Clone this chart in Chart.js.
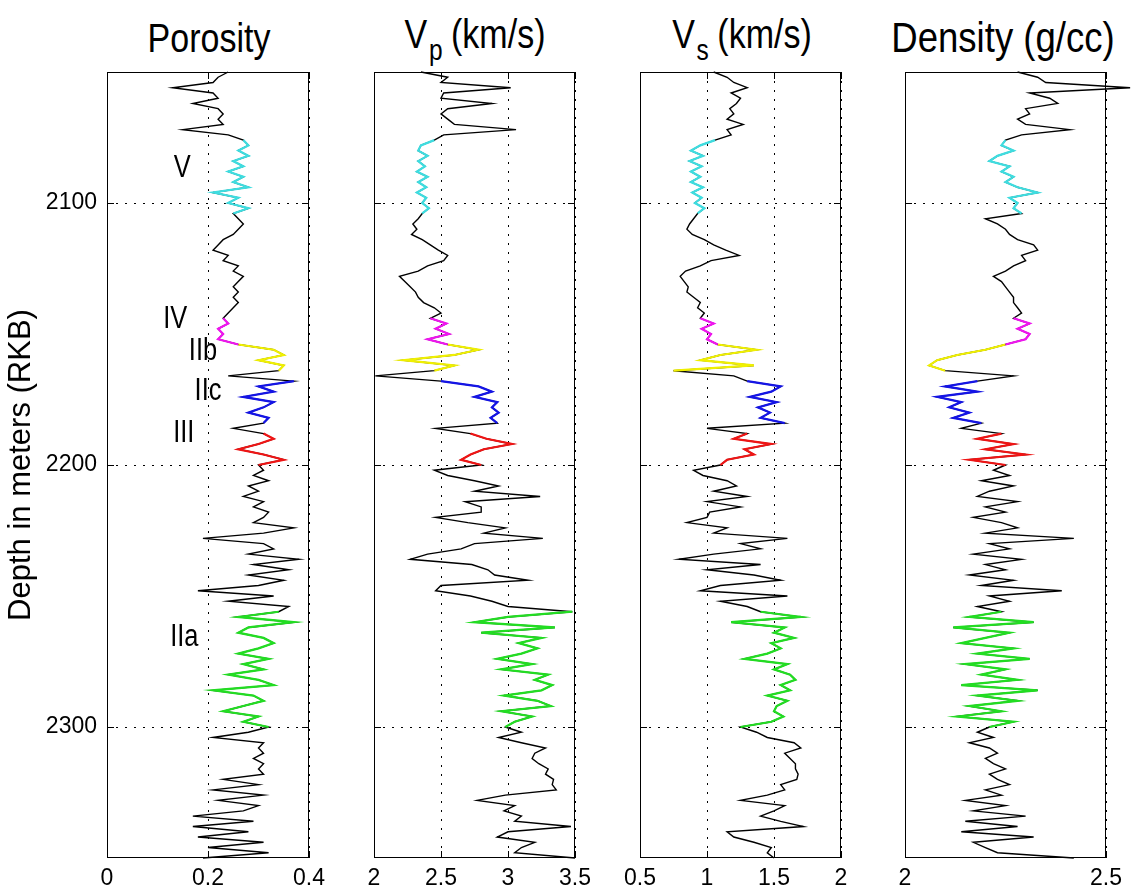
<html lang="en">
  <head>
    <meta charset="UTF-8" />
    <script src="https://cdn.jsdelivr.net/npm/chart.js"></script>
    <title>Well logs</title>
    <style>
      body { margin: 0; background: #fff; overflow: hidden; }
      #wrap { position: relative; width: 1133px; height: 892px; font-family: 'Liberation Sans', Arial, sans-serif; }
      canvas { position: absolute; top: 60px; }
      .ttl { position: absolute; white-space: nowrap; line-height: 1; color: #000;
             transform: translateX(-50%) scaleX(0.85); }
      .ttl span { font-size: 0.72em; position: relative; top: 0.42em; margin-left: 2px; margin-right: 10px; }
    </style>
  </head>
  <body>
    <div id="wrap">
      <div class="ttl" style="left:209px; top:18px; font-size:40px">Porosity</div>
      <div class="ttl" style="left:475px; top:14px; font-size:40px">V<span>p</span>(km/s)</div>
      <div class="ttl" style="left:742px; top:14px; font-size:40px">V<span>s</span>(km/s)</div>
      <div class="ttl" style="left:1003px; top:16px; font-size:43px">Density (g/cc)</div>
      <canvas id="c1" width="333" height="832" style="left:0px"></canvas>
      <canvas id="c2" width="261" height="832" style="left:344px"></canvas>
      <canvas id="c3" width="261" height="832" style="left:610px"></canvas>
      <canvas id="c4" width="258" height="832" style="left:875px"></canvas>
    </div>
    <script>
      // depth samples (m, RKB)
      const depth = [
        2050, 2052, 2054, 2056, 2058, 2060, 2062, 2064, 2066, 2068,
        2070, 2072, 2074, 2076, 2078, 2080, 2082, 2084, 2086, 2088,
        2090, 2092, 2094, 2096, 2098, 2100, 2102, 2104, 2106, 2108,
        2110, 2112, 2114, 2116, 2118, 2120, 2122, 2124, 2126, 2128,
        2130, 2132, 2134, 2136, 2138, 2140, 2142, 2144, 2146, 2148,
        2150, 2152, 2154, 2156, 2158, 2160, 2162, 2164, 2166, 2168,
        2170, 2172, 2174, 2176, 2178, 2180, 2182, 2184, 2186, 2188,
        2190, 2192, 2194, 2196, 2198, 2200, 2202, 2204, 2206, 2208,
        2210, 2212, 2214, 2216, 2218, 2220, 2222, 2224, 2226, 2228,
        2230, 2232, 2234, 2236, 2238, 2240, 2242, 2244, 2246, 2248,
        2250, 2252, 2254, 2256, 2258, 2260, 2262, 2264, 2266, 2268,
        2270, 2272, 2274, 2276, 2278, 2280, 2282, 2284, 2286, 2288,
        2290, 2292, 2294, 2296, 2298, 2300, 2302, 2304, 2306, 2308,
        2310, 2312, 2314, 2316, 2318, 2320, 2322, 2324, 2326, 2328,
        2330, 2332, 2334, 2336, 2338, 2340, 2342, 2344, 2346, 2348,
        2350
      ];

      const porosity = [
        0.24, 0.22, 0.21, 0.13, 0.21, 0.22, 0.17, 0.22, 0.23, 0.22,
        0.23, 0.15, 0.24, 0.27, 0.28, 0.26, 0.28, 0.25, 0.27, 0.24,
        0.27, 0.25, 0.28, 0.21, 0.26, 0.24, 0.28, 0.25, 0.26, 0.27,
        0.26, 0.25, 0.23, 0.22, 0.21, 0.24, 0.23, 0.26, 0.25, 0.27,
        0.26, 0.25, 0.26, 0.25, 0.26, 0.25, 0.24, 0.23, 0.24, 0.22,
        0.23, 0.22, 0.26, 0.33, 0.35, 0.30, 0.35, 0.34, 0.24, 0.37,
        0.30, 0.33, 0.27, 0.33, 0.31, 0.28, 0.32, 0.31, 0.25, 0.31,
        0.33, 0.30, 0.26, 0.31, 0.35, 0.30, 0.31, 0.29, 0.32, 0.28,
        0.30, 0.27, 0.31, 0.29, 0.32, 0.31, 0.29, 0.37, 0.31, 0.19,
        0.31, 0.33, 0.28, 0.38, 0.29, 0.36, 0.28, 0.35, 0.30, 0.18,
        0.33, 0.24, 0.36, 0.34, 0.26, 0.37, 0.28, 0.26, 0.31, 0.33,
        0.30, 0.26, 0.32, 0.27, 0.31, 0.24, 0.30, 0.33, 0.21, 0.29,
        0.31, 0.27, 0.23, 0.30, 0.27, 0.32, 0.28, 0.21, 0.31, 0.30,
        0.31, 0.29, 0.31, 0.30, 0.31, 0.23, 0.30, 0.21, 0.31, 0.22,
        0.30, 0.27, 0.17, 0.29, 0.17, 0.28, 0.18, 0.31, 0.20, 0.32,
        0.19
      ];

      const vp = [
        2.35, 2.55, 2.50, 3.02, 2.52, 2.50, 2.88, 2.55, 2.50, 2.55,
        2.60, 3.06, 2.52, 2.45, 2.35, 2.33, 2.40, 2.33, 2.38, 2.32,
        2.40, 2.33, 2.39, 2.32, 2.39, 2.36, 2.41, 2.36, 2.33, 2.29,
        2.32, 2.28, 2.36, 2.42, 2.48, 2.55, 2.52, 2.40, 2.33, 2.19,
        2.23, 2.27, 2.31, 2.33, 2.37, 2.45, 2.50, 2.42, 2.54, 2.46,
        2.56, 2.40, 2.55, 2.78, 2.60, 2.22, 2.60, 2.45, 2.01, 2.50,
        2.78, 2.88, 2.75, 2.92, 2.88, 2.93, 2.87, 2.92, 2.46, 2.72,
        2.84, 3.03, 2.82, 2.72, 2.65, 2.80, 2.45, 2.55, 2.75, 2.93,
        2.75, 3.24, 2.68, 2.80, 2.80, 2.46, 2.70, 2.98, 2.82, 3.26,
        2.75, 2.65, 2.40, 2.27, 2.73, 2.85, 2.90, 3.15, 2.50, 2.46,
        2.72, 2.88, 3.00, 3.48, 3.00, 2.75, 3.35, 2.80, 3.25, 3.08,
        3.22, 3.10, 2.92, 3.18, 2.95, 3.30, 3.20, 3.33, 3.25, 2.97,
        3.22, 3.32, 2.95, 3.18, 3.05, 2.98, 3.10, 2.93, 3.10, 3.28,
        3.20, 3.18, 3.23, 3.30, 3.28, 3.34, 3.33, 3.36, 2.98, 2.77,
        3.05, 2.97, 3.10, 3.05, 3.47, 3.00, 2.92, 3.20, 3.10, 3.05,
        3.50
      ];

      const vs = [
        1.05, 1.15, 1.20, 1.30, 1.18, 1.25, 1.22, 1.17, 1.20, 1.15,
        1.27, 1.15, 1.18, 1.06, 0.95, 0.88, 0.97, 0.87, 0.96, 0.88,
        0.95, 0.88, 0.97, 0.89, 0.96, 0.91, 0.98, 0.93, 0.90, 0.87,
        0.85, 0.89, 0.98, 1.05, 1.14, 1.24, 1.03, 0.95, 0.84, 0.80,
        0.83, 0.86, 0.85, 0.90, 0.95, 0.93, 0.98, 0.95, 1.05, 0.96,
        1.03, 1.00, 1.08, 1.37, 1.10, 0.95, 1.35, 0.75, 1.20, 1.30,
        1.55, 1.48, 1.32, 1.52, 1.38, 1.47, 1.40, 1.58, 1.00, 1.30,
        1.20, 1.48, 1.28, 1.35, 1.15, 1.10, 0.90, 0.97, 1.15, 1.22,
        1.05, 1.30, 1.00, 1.25, 1.02, 1.00, 0.85, 1.15, 1.05, 1.60,
        1.25, 1.40, 1.05, 0.79, 1.40, 1.00, 1.35, 1.55, 1.10, 0.95,
        1.60, 1.10, 1.30, 1.40, 1.70, 1.18, 1.58, 1.50, 1.65, 1.48,
        1.55, 1.45, 1.28, 1.60, 1.50, 1.62, 1.66, 1.55, 1.62, 1.45,
        1.60, 1.52, 1.50, 1.57, 1.48, 1.25, 1.37, 1.45, 1.65, 1.70,
        1.58, 1.62, 1.66, 1.66, 1.68, 1.67, 1.55, 1.58, 1.45, 1.25,
        1.58, 1.50, 1.40, 1.55, 1.72, 1.15, 1.20, 1.35, 1.48, 1.45,
        1.50
      ];

      const density = [
        2.28, 2.33, 2.35, 2.56, 2.31, 2.36, 2.38, 2.30, 2.31, 2.28,
        2.30, 2.41, 2.29, 2.25, 2.24, 2.27, 2.23, 2.21, 2.26, 2.24,
        2.27, 2.25, 2.28, 2.33, 2.26, 2.28, 2.27, 2.29, 2.20, 2.23,
        2.25, 2.26, 2.28, 2.32, 2.33, 2.29, 2.30, 2.27, 2.25, 2.22,
        2.24, 2.25, 2.26, 2.27, 2.27, 2.28, 2.29, 2.27, 2.31, 2.28,
        2.31, 2.30, 2.25, 2.20, 2.13, 2.08, 2.06, 2.10, 2.27, 2.18,
        2.10, 2.18, 2.08, 2.14, 2.11, 2.16, 2.12, 2.19, 2.14, 2.24,
        2.18, 2.27, 2.20, 2.30, 2.16, 2.25, 2.22, 2.26, 2.19, 2.27,
        2.21, 2.18, 2.28, 2.20, 2.25, 2.17, 2.24, 2.28, 2.20, 2.42,
        2.21, 2.26, 2.17, 2.29, 2.20, 2.25, 2.16, 2.27, 2.19, 2.39,
        2.21, 2.26, 2.18, 2.24, 2.16, 2.32, 2.12, 2.26, 2.20, 2.14,
        2.27, 2.18, 2.31, 2.15, 2.25, 2.19, 2.28, 2.14, 2.33, 2.18,
        2.28, 2.16, 2.24, 2.13, 2.27, 2.21, 2.18, 2.22, 2.16, 2.21,
        2.23, 2.20, 2.22, 2.25, 2.21, 2.23, 2.26, 2.20, 2.24, 2.15,
        2.25, 2.17, 2.30, 2.15, 2.28, 2.14, 2.32, 2.17, 2.20, 2.23,
        2.42
      ];

      // reservoir zones
      const zoneNames = ['V', 'IV', 'IIb', 'IIc', 'III', 'IIa'];
      const zoneTop = [2076, 2144, 2154, 2168, 2188, 2256];
      const zoneBase = [2104, 2154, 2164, 2184, 2200, 2300];
      const zoneColors = ['#3edde0', '#f014f0', '#f0f000', '#1414e6', '#f01414', '#22dd22'];
      // where the zone names sit on the porosity track
      const zoneLabelPor = [0.149, 0.135, 0.19, 0.20, 0.152, 0.153];
      const zoneLabelDepth = [2087, 2144.5, 2156.5, 2172, 2188, 2266];

      const depthTicks = [2100, 2200, 2300];

      const tickFont = { family: "'Liberation Sans', Arial, sans-serif", size: 23 };

      function points(vals, top, base) {
        const out = [];
        depth.forEach((d, i) => {
          if (d >= top && d <= base) out.push({ x: vals[i], y: d });
        });
        return out;
      }

      // box around the plot and matlab-style inside ticks
      const framePlugin = {
        id: 'frame',
        afterDatasetsDraw(chart) {
          const { ctx, chartArea: a, scales } = chart;
          ctx.save();
          ctx.strokeStyle = '#000';
          ctx.lineWidth = 1;
          ctx.setLineDash([]);
          ctx.strokeRect(a.left + 0.5, a.top + 0.5, a.width - 1, a.height - 1);
          ctx.beginPath();
          scales.x.ticks.forEach(t => {
            const x = Math.round(scales.x.getPixelForValue(t.value)) + 0.5;
            ctx.moveTo(x, a.bottom); ctx.lineTo(x, a.bottom - 7);
            ctx.moveTo(x, a.top); ctx.lineTo(x, a.top + 7);
          });
          scales.y.ticks.forEach(t => {
            const y = Math.round(scales.y.getPixelForValue(t.value)) + 0.5;
            ctx.moveTo(a.left, y); ctx.lineTo(a.left + 7, y);
            ctx.moveTo(a.right, y); ctx.lineTo(a.right - 7, y);
          });
          ctx.stroke();
          ctx.restore();
        }
      };

      const zoneLabelPlugin = {
        id: 'zoneLabels',
        afterDatasetsDraw(chart) {
          const { ctx, scales } = chart;
          ctx.save();
          ctx.fillStyle = '#000';
          ctx.font = "31px 'Liberation Sans', Arial, sans-serif";
          ctx.textAlign = 'center';
          ctx.textBaseline = 'middle';
          zoneNames.forEach((name, i) => {
            const x = scales.x.getPixelForValue(zoneLabelPor[i]);
            const y = scales.y.getPixelForValue(zoneLabelDepth[i]);
            ctx.save();
            ctx.translate(x, y);
            ctx.scale(0.82, 1);
            ctx.fillText(name, 0, 0);
            ctx.restore();
          });
          ctx.restore();
        }
      };

      function makeTrack(id, vals, min, max, xTicks, showDepth, padLeft, padRight, extraPlugins) {
        const datasets = zoneNames.map((z, i) => ({
          data: points(vals, zoneTop[i], zoneBase[i]),
          borderColor: zoneColors[i],
          borderWidth: 2.2,
          showLine: true,
          pointRadius: 0
        }));
        datasets.push({
          data: points(vals, depth[0], depth[depth.length - 1]),
          borderColor: '#000',
          borderWidth: 1.4,
          showLine: true,
          pointRadius: 0,
          clip: false
        });

        return new Chart(document.getElementById(id).getContext('2d'), {
          type: 'scatter',
          data: { datasets },
          options: {
            responsive: false,
            animation: false,
            layout: { padding: { top: 12, left: padLeft, right: padRight, bottom: 0 } },
            plugins: { legend: { display: false }, tooltip: { enabled: false } },
            scales: {
              x: {
                type: 'linear',
                min: min,
                max: max,
                afterBuildTicks: s => { s.ticks = xTicks.map(v => ({ value: v })); },
                afterFit: s => { s.height = 34; },
                grid: { color: '#000', lineWidth: 1, drawTicks: false },
                border: { display: false, dash: [2, 7] },
                ticks: { font: tickFont, color: '#000', padding: 7, maxRotation: 0,
                         callback: v => String(v) }
              },
              y: {
                type: 'linear',
                reverse: true,
                min: 2050,
                max: 2350,
                afterBuildTicks: s => { s.ticks = depthTicks.map(v => ({ value: v })); },
                afterFit: s => {
                  s.width = showDepth ? 107 : 0;
                  s.paddingTop = 0;
                  s.paddingBottom = 0;
                },
                grid: { color: '#000', lineWidth: 1, drawTicks: false },
                border: { display: false, dash: [2, 7] },
                ticks: { display: showDepth, font: tickFont, color: '#000', padding: 10,
                         callback: v => String(v) },
                title: {
                  display: showDepth,
                  text: 'Depth in meters (RKB)',
                  color: '#000',
                  font: { family: "'Liberation Sans', Arial, sans-serif", size: 31 },
                  padding: { top: 3, bottom: 0 }
                }
              }
            }
          },
          plugins: [framePlugin].concat(extraPlugins || [])
        });
      }

      makeTrack('c1', porosity, 0, 0.4, [0, 0.2, 0.4], true, 0, 24, [zoneLabelPlugin]);
      makeTrack('c2', vp, 2, 3.5, [2, 2.5, 3, 3.5], false, 30, 30);
      makeTrack('c3', vs, 0.5, 2, [0.5, 1, 1.5, 2], false, 30, 30);
      makeTrack('c4', density, 2, 2.5, [2, 2.5], false, 30, 27);
    </script>
  </body>
</html>
